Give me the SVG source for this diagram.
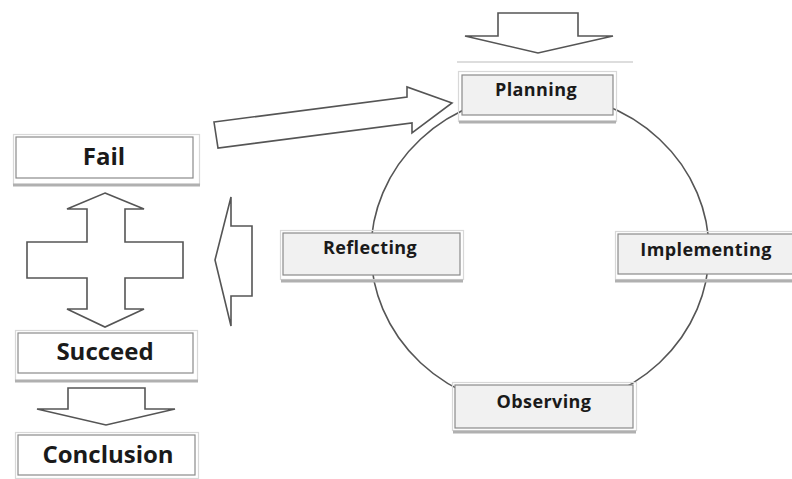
<svg xmlns="http://www.w3.org/2000/svg" width="792" height="479" viewBox="0 0 792 479">
<style>
.bg{fill:#ffffff}
.arrow{fill:#ffffff;stroke:#555555;stroke-width:1.6;stroke-linejoin:miter}
.cyc{fill:none;stroke:#555555;stroke-width:1.6}
.inner{fill:#f1f1f1;stroke:#8a8a8a;stroke-width:1.2}
.innerw{fill:#ffffff;stroke:#8a8a8a;stroke-width:1.2}
.outer{fill:none;stroke:#d8d8d8;stroke-width:1.2}
.shadow{stroke:#b0b0b0;stroke-width:3}
.lbl{font-family:"Open Sans","Liberation Sans",sans-serif;font-weight:bold;fill:#1a1a1a;text-anchor:middle}
.big{font-size:24px}
.small{font-size:18px;letter-spacing:0.4px}
</style>
<rect class="bg" x="0" y="0" width="792" height="479"/>
<g id="connectors">
  <ellipse class="cyc" cx="540" cy="251" rx="169" ry="158"/>
  <polygon id="arrow-top" class="arrow" points="498,13 578,13 578,36 613,36 538,53 465,36 498,36"/>
  <polygon id="arrow-to-planning" class="arrow" points="214,122 407,97 407,87 452,103 412,133 412,123 218,148"/>
  <polygon id="arrow-left" class="arrow" points="215,260 231,197 231,226 252,226 252,296 231,296 231,326"/>
  <polygon id="arrow-cross" class="arrow" points="105,193 144,209 125,209 125,242 183,242 183,278 125,278 125,309 144,309 105,327 67,309 87,309 87,278 27,278 27,242 87,242 87,209 67,209"/>
  <polygon id="arrow-bottom" class="arrow" points="68,388 145,388 145,409 175,409 106,425 37,409 68,409"/>
</g>
<g id="planning">
  <line x1="457" y1="62" x2="633" y2="62" stroke="#dddddd" stroke-width="2"/>
  <rect class="outer" x="458.5" y="71.5" width="158" height="50"/>
  <rect class="inner" x="462" y="75" width="151" height="40"/>
  <line class="shadow" x1="459" y1="122" x2="616" y2="122"/>
  <text class="lbl small" x="536" y="96">Planning</text>
</g>
<g id="implementing">
  <rect class="outer" x="615.5" y="231.5" width="180" height="48"/>
  <rect class="inner" x="618" y="234" width="176" height="40"/>
  <line class="shadow" x1="615" y1="281" x2="792" y2="281"/>
  <text class="lbl small" x="706" y="256">Implementing</text>
</g>
<g id="observing">
  <rect class="outer" x="452.5" y="382.5" width="184" height="48"/>
  <rect class="inner" x="455" y="385" width="178" height="43"/>
  <line class="shadow" x1="453" y1="432" x2="636" y2="432"/>
  <text class="lbl small" x="544" y="408">Observing</text>
</g>
<g id="reflecting">
  <rect class="outer" x="280.5" y="230.5" width="183" height="49"/>
  <rect class="inner" x="283" y="233" width="177" height="42"/>
  <line class="shadow" x1="281" y1="281" x2="463" y2="281"/>
  <text class="lbl small" x="370" y="254">Reflecting</text>
</g>
<g id="fail">
  <rect class="outer" x="13.5" y="134.5" width="186" height="50"/>
  <rect class="innerw" x="16" y="137" width="177" height="41"/>
  <line class="shadow" x1="13" y1="185" x2="200" y2="185"/>
  <text class="lbl big" x="104" y="165">Fail</text>
</g>
<g id="succeed">
  <rect class="outer" x="15.5" y="330.5" width="182" height="50"/>
  <rect class="innerw" x="18" y="333" width="175" height="40"/>
  <line class="shadow" x1="15" y1="381" x2="198" y2="381"/>
  <text class="lbl big" x="105" y="360">Succeed</text>
</g>
<g id="conclusion">
  <rect class="outer" x="15.5" y="432.5" width="183" height="46"/>
  <rect class="innerw" x="18" y="435" width="177" height="40"/>
  <text class="lbl big" x="108" y="463">Conclusion</text>
</g>
</svg>
